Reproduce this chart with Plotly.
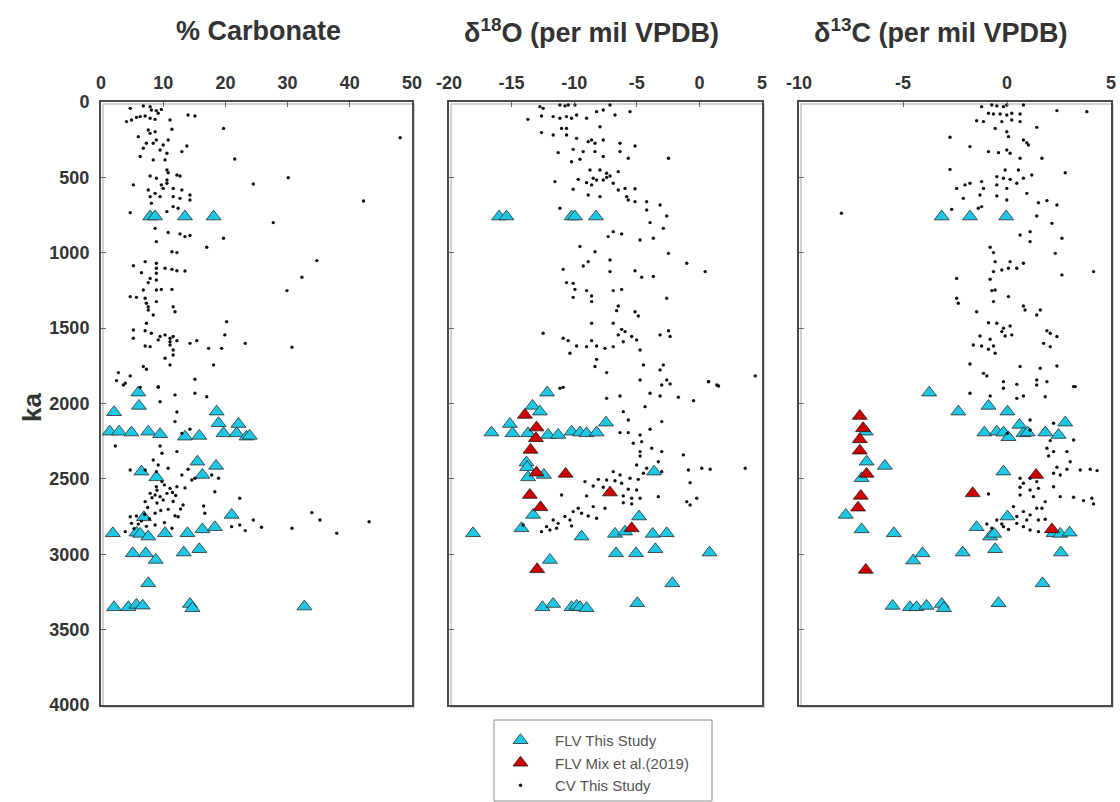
import plotly.graph_objects as go

# ---------------------------------------------------------------- data
# Each series is a list of (age in ka, value) pairs.

# % carbonate
carb_cv = [
    (42, 4.7), (26, 6.8), (31, 7.9), (53, 8.1), (57, 8.9), (49, 9.7), (75, 9.2), (130, 4.1),
    (119, 4.9), (102, 5.7), (97, 6.3), (93, 7.1), (108, 7.9), (115, 8.7), (119, 11.1), (86, 14.0),
    (93, 15.1), (181, 11.4), (186, 7.6), (208, 7.9), (197, 8.7), (230, 6.0), (252, 8.9), (252, 10.8),
    (274, 7.3), (274, 8.4), (285, 10.0), (292, 13.8), (307, 6.8), (318, 9.5), (340, 10.6), (329, 13.0),
    (362, 6.3), (384, 8.4), (384, 10.3), (175, 19.7), (378, 21.5), (237, 48.1), (451, 10.6), (469, 10.8),
    (491, 7.9), (506, 8.9), (517, 10.6), (484, 12.2), (491, 12.7), (550, 5.2), (550, 9.7), (539, 10.6),
    (584, 7.6), (606, 8.7), (573, 10.0), (573, 11.6), (584, 13.0), (544, 24.5), (502, 30.1), (628, 7.9),
    (628, 9.5), (628, 11.6), (639, 12.7), (617, 14.3), (650, 14.3), (672, 8.1), (694, 11.6), (705, 12.4),
    (734, 4.7), (727, 10.6), (657, 42.2), (800, 27.7), (838, 8.7), (866, 10.8), (875, 12.7), (893, 13.5),
    (886, 14.3), (904, 19.7), (926, 8.9), (964, 17.0), (993, 11.4), (999, 12.2), (1052, 34.7), (1086, 5.2),
    (1059, 7.1), (1070, 8.9), (1103, 8.9), (1103, 10.3), (1110, 11.4), (1119, 12.2), (1121, 13.5), (1132, 6.5),
    (1136, 8.9), (1170, 7.9), (1181, 8.9), (1198, 7.6), (1163, 32.3), (1247, 6.8), (1247, 8.9), (1243, 9.7),
    (1243, 11.4), (1251, 29.9), (1291, 4.7), (1296, 5.7), (1302, 7.1), (1324, 8.9), (1335, 7.3), (1358, 7.6),
    (1358, 11.6), (1391, 11.9), (1380, 7.6), (1413, 8.4), (1468, 7.3), (1457, 20.2), (1512, 5.2), (1517, 7.1),
    (1534, 8.1), (1556, 9.5), (1545, 10.3), (1567, 11.1), (1556, 11.6), (1567, 5.2), (1578, 9.2), (1590, 11.1),
    (1583, 12.2), (1601, 14.3), (1583, 15.4), (1612, 11.1), (1619, 7.1), (1623, 7.9), (1634, 17.3), (1634, 19.4),
    (1601, 23.2), (1627, 30.7), (1645, 11.6), (1545, 19.9), (1700, 10.3), (1678, 11.6), (1744, 11.1), (1744, 18.1),
    (1755, 6.8), (1773, 7.3), (1795, 2.8), (1817, 4.7), (1848, 2.5), (1866, 3.9), (1839, 15.1), (1888, 9.2),
    (1893, 9.2), (1877, 3.6), (1893, 6.3), (1943, 11.9), (1988, 9.5), (1955, 17.0), (1932, 15.1), (2056, 12.2),
    (2120, 11.9), (2171, 14.3), (2198, 13.0), (2282, 2.3), (2282, 9.5), (2330, 9.8), (2319, 12.2), (2375, 8.4),
    (2408, 9.2), (2430, 10.8), (2441, 4.7), (2441, 7.1), (2452, 8.9), (2436, 14.0), (2474, 13.0), (2507, 14.6),
    (2496, 15.1), (2474, 17.8), (2496, 18.9), (2518, 9.8), (2563, 11.1), (2552, 12.2), (2552, 8.9), (2596, 7.9),
    (2607, 8.7), (2651, 7.1), (2618, 9.5), (2596, 10.6), (2673, 13.2), (2585, 18.3), (2629, 22.3), (2702, 10.8),
    (2751, 12.4), (2728, 8.7), (2751, 4.7), (2746, 5.7), (2795, 4.9), (2806, 8.7), (2680, 16.5), (2728, 16.7),
    (2817, 21.0), (2806, 22.3), (2773, 24.5), (2821, 25.8), (2843, 23.2), (2828, 30.7), (2724, 33.9), (2773, 35.2),
    (2861, 37.9), (2784, 43.1), (2850, 3.9), (2828, 11.4), (2540, 10.2), (2575, 9.0), (2590, 11.5), (2625, 8.2),
    (2640, 10.0), (2660, 9.0), (2690, 7.5), (2710, 9.6), (2735, 7.0), (2765, 7.8), (2780, 6.5), (2800, 6.0),
    (2815, 7.3), (2830, 5.3), (2560, 13.5), (2610, 12.0), (2650, 11.6), (2700, 12.8), (2745, 11.9), (2790, 10.2),
]
carb_flv = [
    (760, 7.9), (760, 8.7), (760, 13.5), (760, 18.1),
    (1928, 6.0), (2058, 2.1), (2016, 6.1), (2054, 18.6), (2131, 18.9), (2136, 22.1), (2187, 1.4), (2187, 2.9),
    (2193, 4.9), (2187, 7.6), (2204, 9.5), (2220, 13.5), (2215, 15.8), (2198, 19.7), (2198, 21.8), (2220, 23.4),
    (2215, 23.9), (2386, 15.5), (2414, 18.5), (2452, 6.5), (2490, 8.9), (2474, 16.3), (2755, 6.9), (2739, 21.0),
    (2861, 1.9), (2857, 5.7), (2865, 6.3), (2883, 7.6), (2861, 10.3), (2861, 13.9), (2835, 16.3), (2821, 18.3),
    (2994, 5.1), (2994, 7.2), (3038, 8.8), (2989, 13.3), (2967, 15.8), (3193, 7.6), (3352, 2.1), (3352, 4.4),
    (3336, 5.7), (3341, 6.7), (3330, 14.3), (3358, 14.7), (3347, 32.7),
]

# d18O (per mil VPDB)
d18o_cv = [
    (31, -12.74), (42, -12.48), (20, -11.14), (26, -10.74), (20, -10.48), (20, -9.94), (20, -7.14), (115, -13.70),
    (93, -12.61), (97, -11.68), (108, -11.14), (97, -10.61), (108, -10.21), (86, -9.81), (108, -9.01), (64, -8.21),
    (53, -7.68), (86, -6.74), (64, -5.54), (164, -7.94), (175, -11.01), (175, -10.61), (203, -12.61), (219, -11.68),
    (219, -10.61), (241, -9.81), (263, -8.88), (252, -8.61), (274, -8.34), (252, -7.68), (274, -6.34), (292, -5.14),
    (314, -10.08), (336, -11.28), (329, -9.28), (329, -8.34), (362, -7.68), (329, -6.34), (373, -5.68), (373, -2.47),
    (396, -10.21), (380, -9.54), (451, -8.74), (451, -7.94), (473, -7.41), (491, -7.14), (462, -6.48), (513, -9.68),
    (535, -9.01), (506, -8.48), (517, -8.21), (517, -7.68), (500, -7.41), (539, -6.88), (550, -8.61), (617, -8.88),
    (628, -7.94), (584, -6.48), (573, -5.94), (575, -5.14), (628, -5.81), (650, -5.68), (661, -5.14), (661, -4.21),
    (683, -3.14), (528, -11.54), (579, -10.08), (705, -11.14), (716, -4.21), (800, -3.94), (756, -2.61), (838, -2.88),
    (904, -3.68), (915, -4.74), (860, -6.88), (875, -6.21), (893, -7.28), (959, -9.54), (993, -8.34), (1004, -2.47),
    (1070, -1.01), (1125, 0.46), (1110, -10.88), (1088, -9.28), (1059, -8.88), (1048, -7.14), (1125, -7.14), (1119, -5.14),
    (1163, -4.61), (1158, -3.68), (1198, -10.61), (1203, -10.08), (1243, -9.94), (1251, -9.01), (1287, -8.61), (1324, -8.61),
    (1251, -6.88), (1243, -6.21), (1296, -10.08), (1302, -2.61), (1353, -6.48), (1384, -6.61), (1391, -5.14), (1420, -4.88),
    (1468, -8.61), (1468, -6.88), (1508, -6.21), (1523, -5.94), (1545, -6.48), (1556, -5.41), (1578, -5.01), (1545, -3.14),
    (1556, -2.34), (1517, -2.47), (1534, -12.48), (1567, -10.88), (1583, -10.48), (1583, -8.61), (1619, -8.21), (1634, -7.54),
    (1623, -6.88), (1619, -9.81), (1623, -9.01), (1667, -10.34), (1590, -6.08), (1645, -4.74), (1707, -8.21), (1755, -8.34),
    (1795, -7.41), (1744, -4.47), (1777, -3.14), (1744, -2.88), (1844, -4.74), (1877, -3.01), (1844, -2.61), (1855, 0.73),
    (1877, 1.39), (1817, 4.46), (1899, -11.14),
    (1893, -10.88), (1966, -7.41), (1950, -6.34), (1932, -3.94), (1950, -3.14), (1870, -2.34), (1959, -1.68), (1981, -0.47),
    (1855, 0.73), (1884, 1.53), (2054, -6.08), (2021, -4.34), (2120, -3.01), (2109, -5.68), (2193, -6.34), (2193, -5.68),
    (2209, -4.74), (2264, -5.28), (2253, -4.61), (2171, -3.94), (2297, -3.81), (2319, -3.01), (2319, -4.74), (2348, -4.74),
    (2341, -1.28), (2386, -3.28), (2408, -5.01), (2430, -4.21), (2463, -4.47), (2452, -3.01), (2441, -0.88), (2430, 0.19),
    (2436, 0.86), (2430, 3.66), (2452, -6.88), (2474, -6.34), (2496, -5.54), (2503, -4.88), (2518, -9.14), (2503, -8.07),
    (2507, -7.41), (2512, -6.74), (2529, -6.21), (2569, -5.68), (2574, -5.01), (2547, -8.48), (2556, -7.68), (2613, -9.01),
    (2613, -6.08), (2629, -5.41), (2629, -4.74), (2618, -3.28), (2525, -0.74), (2629, -0.21), (2651, -1.01), (2673, -0.74),
    (2607, -11.01), (2684, -8.48), (2695, -7.54), (2658, -6.08), (2666, -5.41), (2695, -9.68), (2717, -10.08), (2750, -10.74),
    (2773, -10.34), (2728, -9.41), (2746, -8.88), (2761, -8.21), (2773, -11.68), (2795, -11.28), (2817, -12.21), (2850, -12.61),
    (2839, -11.94), (2828, -11.41), (2812, -10.21), (2806, -14.08),
]
d18o_flv = [
    (760, -16.00), (760, -15.41), (760, -10.21), (760, -9.94), (760, -8.26),
    (1928, -12.16), (2016, -13.33), (2054, -12.74), (2136, -15.14), (2193, -16.61), (2198, -14.93), (2198, -13.68),
    (2209, -12.08), (2209, -11.28), (2187, -10.21), (2193, -9.54), (2198, -9.01), (2193, -8.21), (2127, -7.46),
    (2392, -13.81), (2423, -13.76), (2490, -13.68), (2474, -12.42), (2452, -3.62), (2739, -13.28), (2828, -14.21),
    (2861, -18.08), (2883, -9.41), (2865, -6.74), (2850, -5.94), (2750, -4.82), (2865, -3.73), (2861, -2.61),
    (2994, -6.66), (2994, -5.06), (2967, -3.52), (2989, 0.81), (3038, -11.94), (3193, -2.16), (3352, -12.53),
    (3330, -11.68), (3352, -10.21), (3343, -9.81), (3352, -9.54), (3358, -9.01), (3325, -4.96),
]
d18o_mix = [
    (2076, -13.94), (2160, -13.01), (2231, -13.06), (2308, -13.49), (2459, -13.01), (2467, -10.69),
    (2607, -13.54), (2591, -7.14), (2689, -12.69), (2828, -5.41), (3100, -12.96),
]

# d13C (per mil VPDB)
d13c_cv = [
    (31, -1.22), (20, -0.73), (26, -0.49), (31, -0.17), (20, -0.01), (20, 0.79), (75, -0.89), (80, -0.65),
    (80, -0.33), (86, -0.01), (75, 0.23), (80, 0.63), (124, -1.46), (130, -1.13), (130, -0.25), (130, 0.63),
    (119, 0.23), (57, 2.40), (64, 3.84), (168, 1.43), (175, -0.57), (197, -0.01), (230, 0.07), (252, 0.79),
    (270, 0.95), (285, 1.03), (234, -2.74), (296, -1.78), (329, -0.89), (336, -0.41), (318, -0.01), (340, 0.15),
    (373, 0.63), (373, 1.68), (447, -2.74), (451, -0.09), (451, 0.55), (495, -0.49), (506, -0.17), (513, 0.15),
    (506, 0.79), (484, 1.19), (469, 2.80), (573, -2.42), (550, -2.02), (539, -1.78), (528, -1.22), (573, -1.13),
    (550, -0.49), (573, -0.01), (539, 0.47), (606, 0.95), (639, -2.10), (617, -1.30), (623, -0.49), (650, -0.01),
    (668, 1.51), (654, 1.92), (683, 2.40), (712, -2.66), (705, -1.38), (694, -1.22), (756, 1.43), (805, 2.16),
    (738, -7.96), (882, 0.63), (860, 1.11), (926, 1.11), (904, 2.64), (964, -0.81), (999, -0.65), (1059, -0.57),
    (1114, -0.25), (1103, 0.07), (1103, 0.47), (1125, -0.65), (1059, 0.15), (1070, 0.79), (1004, 2.32), (1125, 4.16),
    (1147, 2.64), (1170, -2.42), (1176, -0.81), (1302, -2.42), (1335, -2.34), (1251, -0.73), (1247, -0.57), (1291, 0.07),
    (1324, -0.65), (1353, 0.79), (1380, 0.87), (1380, 1.60), (1413, 1.43), (1391, -1.46), (1464, -0.89), (1468, -0.49),
    (1501, -0.17), (1486, 0.15), (1523, -0.25), (1552, -1.30), (1574, -0.81), (1619, -0.65), (1640, -0.89), (1667, -0.57),
    (1552, -0.09), (1545, 0.23), (1612, -1.62), (1619, -1.22), (1517, 1.92), (1534, 2.08), (1556, 2.40), (1601, 1.76),
    (1623, 2.08), (1755, 0.63), (1766, 1.60), (1738, -1.78), (1800, -1.13), (1817, -0.97), (1855, -0.17), (1873, 0.47),
    (1844, 1.43), (1855, 1.92), (1888, 3.28), (1751, 2.40),
    (1932, -1.78), (1950, -0.81), (1899, -0.17), (1966, 0.47), (1950, 0.79), (1877, 1.43), (1955, 1.84), (1888, 3.20),
    (2109, 1.11), (2131, 2.24), (2198, 0.02), (2176, 1.11), (2246, 2.08), (2242, 3.20), (2297, 1.92), (2319, 2.24),
    (2319, 2.88), (2348, 2.00), (2386, 3.04), (2423, 2.40), (2436, 2.88), (2441, 3.52), (2436, 4.00), (2445, 4.33),
    (2463, 2.24), (2474, 2.56), (2496, 0.63), (2496, 1.11), (2529, 0.79), (2518, 1.43), (2556, 0.63), (2574, 1.11),
    (2563, 1.51), (2607, 0.63), (2618, 1.27), (2552, 2.24), (2618, 2.56), (2622, 3.20), (2644, 3.68), (2629, 4.08),
    (2666, 4.16), (2651, 1.84), (2695, 1.43), (2600, -0.89), (2684, 0.31), (2717, 0.79), (2739, 1.11), (2695, 1.68),
    (2750, 0.47), (2773, 0.95), (2773, 1.51), (2768, 1.84), (2795, 0.47), (2817, 0.79), (2839, 1.11), (2850, 1.51),
    (2773, -0.49), (2799, -0.25), (2799, -0.97), (2817, -0.17), (2835, 0.07), (2828, -0.73),
]
d13c_flv = [
    (760, -3.14), (760, -1.78), (760, -0.04),
    (1928, -3.74), (2054, -2.34), (2016, -0.89), (2054, 0.02), (2127, 2.80), (2193, -1.09), (2187, -0.49),
    (2193, -0.17), (2224, 0.07), (2142, 0.60), (2198, 0.79), (2193, 0.99), (2193, 1.84), (2209, 2.48),
    (2187, -6.79), (2386, -6.75), (2414, -5.87), (2496, -6.99), (2452, -0.17), (2739, -7.75), (2835, -6.99),
    (2861, -5.44), (2821, -1.46), (2883, -0.81), (2865, -0.62), (2750, 0.02), (2861, 2.24), (2865, 2.56),
    (2857, 3.01), (3042, -4.51), (2994, -4.06), (2989, -2.13), (2967, -0.57), (2989, 2.59), (3193, 1.71),
    (3343, -5.50), (3352, -4.67), (3352, -4.35), (3343, -3.87), (3330, -3.14), (3358, -3.03), (3325, -0.41),
]
d13c_mix = [
    (2083, -7.08), (2165, -6.92), (2238, -7.08), (2313, -7.08), (2467, -6.75), (2613, -7.03),
    (2691, -7.16), (2474, 1.40), (2596, -1.65), (2835, 2.16), (3104, -6.79),
]

panel_titles = ["% Carbonate", "δ<sup>18</sup>O (per mil VPDB)", "δ<sup>13</sup>C (per mil VPDB)"]
x_ranges = [(0, 50), (-20, 5), (-10, 5)]
x_ticks = [[0, 10, 20, 30, 40, 50], [-20, -15, -10, -5, 0, 5], [-10, -5, 0, 5]]
ka_ticks = [0, 500, 1000, 1500, 2000, 2500, 3000, 3500, 4000]

# ---------------------------------------------------------------- style
FONT = "Liberation Sans, Arial, Helvetica, sans-serif"
INK = "#333333"
FRAME = "#4a4a4a"
CYAN = "#1cc8e6"
RED = "#d00000"
W, H = 1120, 802

# panel frames in pixels (left, right), shared top/bottom
panel_px = [(101, 412), (449, 762), (799, 1111)]
top_px, bottom_px = 102, 705
title_cx = [258, 591, 940]


def px_x(p):
    return p / W


def px_y(p):
    return 1 - p / H


fig = go.Figure()

series = [
    (carb_flv, None, carb_cv),
    (d18o_flv, d18o_mix, d18o_cv),
    (d13c_flv, d13c_mix, d13c_cv),
]
shown = set()
for i, (flv, mix, cv) in enumerate(series):
    xa = "x" if i == 0 else f"x{i + 1}"
    ya = "y" if i == 0 else f"y{i + 1}"
    layers = [
        ("FLV This Study", 1, flv, dict(symbol="triangle-up", size=13, color=CYAN,
                                         line=dict(color="#2b2b2b", width=0.8))),
        ("FLV Mix et al.(2019)", 2, mix, dict(symbol="triangle-up", size=13, color=RED,
                                               line=dict(color="#1a1a1a", width=0.8))),
        ("CV This Study", 3, cv, dict(symbol="circle", size=3.4, color="#111111", line=dict(width=0))),
    ]
    for name, rank, pts, marker in layers:
        if pts is None:
            continue
        fig.add_trace(go.Scatter(
            x=[p[1] for p in pts], y=[p[0] for p in pts],
            mode="markers", name=name, marker=marker,
            xaxis=xa, yaxis=ya, legendgroup=name, legendrank=rank,
            showlegend=name not in shown,
        ))
        shown.add(name)

axis_common = dict(
    showline=True, mirror=True, linecolor=FRAME, linewidth=2,
    showgrid=False, zeroline=False, ticks="inside", ticklen=5, tickcolor="#666666",
    tickfont=dict(family=FONT, size=18, color=INK, weight="bold"),
    automargin=False,
)
layout = {}
for i, ((l, r), rng, tv) in enumerate(zip(panel_px, x_ranges, x_ticks)):
    sfx = "" if i == 0 else str(i + 1)
    layout["xaxis" + sfx] = dict(
        axis_common, domain=[px_x(l), px_x(r)], range=list(rng), autorange=False,
        side="top", tickvals=tv, ticktext=[str(v) for v in tv],
        anchor="y" + sfx, ticklabelstandoff=4,
    )
    layout["yaxis" + sfx] = dict(
        axis_common, domain=[px_y(bottom_px), px_y(top_px)], range=[4000, 0], autorange=False,
        tickvals=ka_ticks, showticklabels=(i == 0), anchor="x" + sfx, ticklabelstandoff=6,
    )

annotations = []
for t, cx in zip(panel_titles, title_cx):
    annotations.append(dict(
        text=t, x=px_x(cx), y=px_y(31), xref="paper", yref="paper",
        xanchor="center", yanchor="middle", showarrow=False,
        font=dict(family=FONT, size=27, color=INK, weight="bold"),
    ))
annotations.append(dict(
    text="ka", x=px_x(32), y=px_y(408), xref="paper", yref="paper", textangle=-90,
    xanchor="center", yanchor="middle", showarrow=False,
    font=dict(family=FONT, size=26, color=INK, weight="bold"),
))

# soft grey shadow just below/right of each panel frame
shapes = [
    dict(type="rect", xref="paper", yref="paper", layer="below",
         x0=px_x(l + 2), x1=px_x(r + 2), y0=px_y(bottom_px + 2), y1=px_y(top_px + 2),
         line=dict(color="#c4c4c4", width=1.5))
    for l, r in panel_px
]
# legend frame
shapes.append(dict(type="rect", xref="paper", yref="paper",
                   x0=px_x(494), x1=px_x(712), y0=px_y(801), y1=px_y(720),
                   line=dict(color="#8c8c8c", width=1)))

fig.update_layout(
    **layout,
    width=W, height=H, margin=dict(l=0, r=0, t=0, b=0, autoexpand=False),
    paper_bgcolor="white", plot_bgcolor="white",
    annotations=annotations,
    shapes=shapes,
    legend=dict(
        x=px_x(486), y=px_y(724), xanchor="left", yanchor="top",
        bgcolor="rgba(0,0,0,0)", borderwidth=0, itemwidth=59,
        tracegroupgap=0, font=dict(family=FONT, size=15, color="#555555"),
    ),
    showlegend=True,
)

# page body without the default browser margin so the figure sits at the origin
fig.write_html("out.html", post_script="document.body.style.margin='0';")
